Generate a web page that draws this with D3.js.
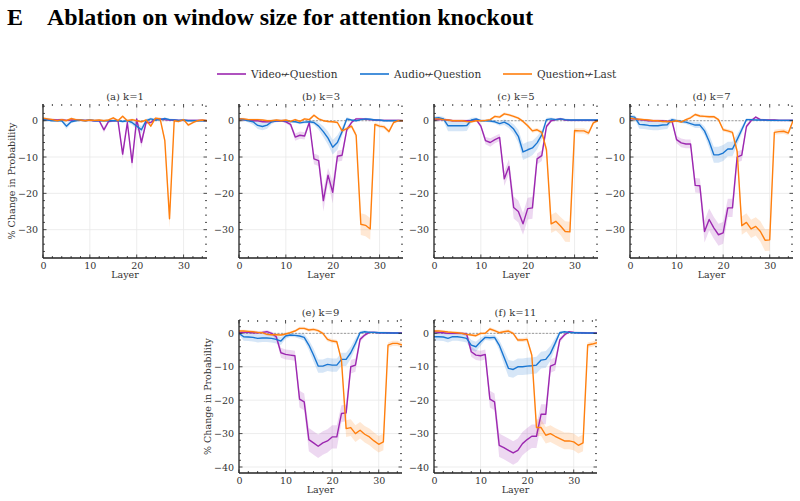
<!DOCTYPE html>
<html>
<head>
<meta charset="utf-8">
<script src="https://cdn.jsdelivr.net/npm/d3@7"></script>
<style>
  body { margin: 0; background: #fff; }
  svg text { font-family: "DejaVu Serif", serif; fill: #333; }
</style>
</head>
<body>
<svg id="chart" width="800" height="501"></svg>
<script>
// series names for the legend
var seriesNames = ['Video\u219AQuestion', 'Audio\u219AQuestion', 'Question\u219ALast'];
var seriesColors = ['#9C27B0', '#1976D2', '#FF7F0E'];
var panelTitles = ['(a) k=1', '(b) k=3', '(c) k=5', '(d) k=7', '(e) k=9', '(f) k=11'];
var xTicks = [0, 10, 20, 30];
var yTicksTop = [0, -10, -20, -30];
var yTicksBottom = [0, -10, -20, -30, -40];

// % change per layer (0..35)
var videoK1 = [0.5,0.3,0.3,0.2,0.3,0.1,0.2,0.2,0.1,0.1,0.1,0,0,-2.5,-0.2,0,0,-9.2,-0.5,-11.5,0.5,-6,-0.5,-0.5,0.5,0.5,0.3,0.2,0.2,0.1,0.1,0.1,0.1,0.1,0.1,0];
var audioK1 = [0.3,0.2,0,0,0,-1.5,-0.3,0,0.2,0,0.2,0,0,0,0,0,0,-0.2,0,-0.5,-1.5,-2.5,0,0.5,0.2,0.3,0.6,0.3,0.2,0.1,0.2,0,0,0,0,0];
var lastK1 = [0.7,0.5,0.3,0,0.3,0,0.6,0.3,0.2,0,0.2,0.1,0.2,0,0.2,0.8,0,1.2,0,0.3,0,-0.3,0.2,-1.5,0.7,0.5,-5.5,-27,0,-0.2,0.3,-1.2,-0.5,0,0.2,0];

var videoK3 = [0.5,0.3,0.2,0,0,-0.3,-0.3,-0.2,-0.1,0,-0.3,-1,-4.5,-4,-4.2,-0.5,-10.5,-11,-22,-15,-19.7,-9.8,-9.5,-2.5,-0.5,0.5,0.5,0.4,0.3,0.2,0.1,0.1,0.1,0.1,0.1,0];
var audioK3 = [0.5,0.3,0,-0.3,-1.3,-1.6,-1.2,-0.3,0,0,0,-0.2,-0.3,-0.6,-0.4,-0.3,-0.5,-1.5,-3,-4.8,-7.3,-6,-3,0.5,0.2,0,0.3,0.5,0.4,0.2,0.2,0,0,0,0,0];
var lastK3 = [0.5,0.5,0.3,0.3,0.3,0.2,0,0,0.2,0,0.2,-0.2,0.3,-0.2,0.5,0.3,1.5,0.5,0,-0.2,-0.3,-0.5,-2.8,-2.2,-1.5,-4,-28.5,-28.8,-29.8,-1,-1.5,-1.7,-3,-0.5,0,0];

var videoK5 = [0.3,0.3,0.3,0.2,0,0,0,0,0,0.3,-1.5,-5.5,-6,-5.2,-4.6,-16,-12.6,-23.9,-25,-28.4,-24.2,-24,-10.5,-9.6,-1.6,0,0.3,0.5,0.2,0.1,0.1,0.1,0.1,0.1,0.1,0.1];
var audioK5 = [0.7,0.8,0.5,-1.4,-1.4,-1.4,-1.4,-1.3,0.2,0.5,0,0,-0.1,-0.3,-0.8,-0.4,-1.1,-2.3,-4.3,-8.6,-8,-7.5,-6.1,-3.9,0.3,0.5,0.3,0.5,0.3,0.2,0.2,0.2,0.2,0.2,0.2,0.2];
var lastK5 = [0.5,0.5,0.3,0.2,0,0,0,-0.2,-0.3,0,0,0.1,0.3,1.2,1,1.9,1.6,1.2,0.7,-0.2,-1.4,-2.8,-2.5,-3.2,-8,-28.4,-27.7,-29,-30.5,-30.6,-2.7,-2.8,-2.8,-3.4,-0.6,0];

var videoK7 = [0.5,0.5,0.3,0.2,0,0,0,0,-0.2,0,-5.2,-6.1,-6.4,-6.4,-17.8,-17.9,-30.5,-27.2,-29.5,-31.4,-30.9,-24,-24,-10,-9.5,-1.6,0,1,0.3,0.2,0.2,0.2,0.1,0.1,0.1,0.1];
var audioK7 = [1.2,1,-1,-1.1,-1.3,-1.4,-1.4,-1.2,-1.1,0.3,0,-0.2,-0.4,-0.8,-1.2,-1.2,-2.8,-5.7,-9.4,-9.4,-8.9,-7.8,-7.8,-5.2,-2.5,0.3,0.3,0.2,0.2,0.2,0.1,0.1,0.1,0.1,0.1,0.1];
var lastK7 = [0.7,0.5,0.4,0.3,0.2,0,0,-0.2,-0.2,-0.3,0,-0.4,0.3,0.8,1.7,1.3,1.2,1.1,1.1,0.3,-2.5,-2.8,-3.2,-8.4,-28.9,-28,-29.8,-29.1,-30.5,-32.9,-32.8,-3.2,-3,-2.9,-3.4,0];

var videoK9 = [0.2,0.3,0.3,0.2,0.2,0.3,0.5,0,-1,-5.8,-6.3,-6.5,-6.7,-19.7,-20.5,-31.8,-32.8,-33.8,-32.8,-32.2,-31,-31,-24,-23.8,-10,-9.5,-1.8,-0.5,0.3,0.3,0.2,0.2,0.2,0.1,0.1,0.1];
var audioK9 = [0,-1,-1.1,-1.2,-1.5,-1.4,-1.4,-1.5,-1.8,-2.3,-0.8,-0.5,-0.6,-0.8,-1.2,-3.5,-6.5,-9.8,-9.8,-9.3,-9.5,-9.5,-7.8,-7.8,-5.8,-3,0.2,0.5,0.3,0.3,0.2,0.2,0.1,0.1,0.1,0];
var lastK9 = [0.7,0.7,0.6,0.5,0.3,0.2,-0.3,-0.4,-0.4,-0.5,-0.2,0.2,0.7,1.5,1.5,1,1.2,0.8,0,-1.8,-2.3,-2.5,-8,-28.5,-28.2,-30,-29,-30.2,-31,-32.2,-33.2,-32.5,-3.5,-3,-3,-3.5];

var videoK11 = [0.5,0.3,0.2,0,0,0,0,-0.2,-5.5,-6.5,-6.7,-6.3,-19.7,-20.5,-33.5,-34.2,-35,-35.8,-35,-33,-31.8,-30.8,-30.8,-24.2,-24.2,-9.8,-9.2,-2,-0.5,0.5,0.3,0.2,0.2,0.1,0.1,0.1];
var audioK11 = [-1,-1,-1.1,-1.5,-1,-1,-1.2,-1.5,-3.5,-4,-2.5,-1.2,-1.3,-1.2,-3.5,-7,-10.5,-10.8,-10,-10,-9.8,-9.7,-9.5,-8,-7.8,-6,-3,0.2,0.5,0.3,0.2,0.2,0.1,0.1,0.1,0];
var lastK11 = [0.7,0.7,0.6,0.4,0.3,0.2,0,-0.3,-0.5,-0.7,0,0,1.3,0.8,0.2,0.5,0.7,0,-2,-2,-1.8,-6.5,-28.2,-28.2,-30.5,-30,-30.8,-31.5,-32.2,-32.2,-32.5,-33.5,-32.8,-3.5,-3.2,-2.8];

// half width of the shaded band, per layer
var videoErrK1 = [0.3,0.3,0.3,0.3,0.3,0.3,0.3,0.3,0.3,0.3,0.3,0.3,0.4,0.8,0.4,0.3,0.3,1.5,0.5,2,0.5,1.5,0.4,0.3,0.3,0.3,0.3,0.3,0.3,0.3,0.3,0.3,0.3,0.3,0.3,0.3];
var audioErrK1 = [0.3,0.3,0.3,0.3,0.4,0.8,0.4,0.3,0.3,0.3,0.3,0.3,0.3,0.3,0.3,0.3,0.3,0.3,0.4,0.6,1,1,0.5,0.4,0.3,0.3,0.3,0.3,0.3,0.3,0.3,0.3,0.3,0.3,0.3,0.3];
var lastErrK1 = [0.3,0.3,0.3,0.3,0.3,0.3,0.3,0.3,0.3,0.3,0.3,0.3,0.3,0.3,0.3,0.3,0.3,0.4,0.3,0.3,0.3,0.3,0.3,0.4,0.4,0.4,1,2.5,0.4,0.3,0.3,0.4,0.3,0.3,0.3,0.3];

var videoErrK3 = [0.3,0.3,0.3,0.3,0.3,0.3,0.3,0.3,0.3,0.3,0.4,0.6,1,1,1,0.5,1.5,1.5,3,2,3,1.5,1.5,0.8,0.4,0.3,0.3,0.3,0.3,0.3,0.3,0.3,0.3,0.3,0.3,0.3];
var audioErrK3 = [0.3,0.3,0.5,0.8,1,1,1,0.6,0.3,0.3,0.3,0.3,0.3,0.4,0.4,0.4,0.6,1,1.5,1.8,2,2,1.2,0.5,0.3,0.3,0.3,0.3,0.3,0.3,0.3,0.3,0.3,0.3,0.3,0.3];
var lastErrK3 = [0.3,0.3,0.3,0.3,0.3,0.3,0.3,0.3,0.3,0.3,0.3,0.3,0.3,0.3,0.3,0.3,0.4,0.3,0.3,0.3,0.3,0.3,0.5,0.5,0.5,0.8,3,3,3,0.5,0.5,0.5,0.6,0.4,0.3,0.3];

var videoErrK5 = [0.3,0.3,0.3,0.3,0.3,0.3,0.3,0.3,0.3,0.4,0.6,1,1.2,1,1,2,2,3,3,3,3,3,1.5,1.5,0.6,0.4,0.3,0.3,0.3,0.3,0.3,0.3,0.3,0.3,0.3,0.3];
var audioErrK5 = [0.5,0.5,0.6,1.5,1.5,1.5,1.5,1.5,0.6,0.4,0.3,0.3,0.4,0.5,0.6,0.8,1,1.3,1.8,2.2,2.2,2,1.8,1.2,0.5,0.4,0.3,0.3,0.3,0.3,0.3,0.3,0.3,0.3,0.3,0.3];
var lastErrK5 = [0.3,0.3,0.3,0.3,0.3,0.3,0.3,0.3,0.3,0.3,0.3,0.3,0.3,0.4,0.4,0.4,0.4,0.4,0.4,0.4,0.5,0.5,0.5,0.6,1,2.5,2.5,2.5,2.8,2.8,0.7,0.7,0.7,0.7,0.4,0.3];

var videoErrK7 = [0.3,0.3,0.3,0.3,0.3,0.3,0.3,0.3,0.3,0.4,1,1.2,1.2,1.2,2,2,3,3,3,3,3,2.5,2.5,1.5,1.5,0.6,0.4,0.3,0.3,0.3,0.3,0.3,0.3,0.3,0.3,0.3];
var audioErrK7 = [0.5,0.5,1.2,1.2,1.2,1.2,1.2,1.2,1.2,0.5,0.4,0.4,0.5,0.6,0.8,0.8,1.2,1.8,2.2,2.2,2.2,2,2,1.5,1,0.4,0.3,0.3,0.3,0.3,0.3,0.3,0.3,0.3,0.3,0.3];
var lastErrK7 = [0.3,0.3,0.3,0.3,0.3,0.3,0.3,0.3,0.3,0.3,0.3,0.3,0.3,0.4,0.4,0.4,0.4,0.4,0.4,0.4,0.5,0.5,0.5,0.8,2.5,2.5,2.5,2.5,2.8,3,3,0.7,0.7,0.7,0.7,0.3];

var videoErrK9 = [0.4,0.4,0.4,0.4,0.4,0.4,0.5,0.5,0.8,1.5,1.5,1.5,1.5,2.5,2.5,3.5,3.5,3.5,3.5,3.5,3.5,3.5,2.5,2.5,2,2,0.8,0.5,0.3,0.3,0.3,0.3,0.3,0.3,0.3,0.3];
var audioErrK9 = [0.5,1.2,1.2,1.2,1.2,1.2,1.2,1.2,1.2,1.2,0.8,0.6,0.6,0.8,1,1.5,2,2,2,2,2,2,2,2,1.8,1.5,0.5,0.4,0.3,0.3,0.3,0.3,0.3,0.3,0.3,0.3];
var lastErrK9 = [0.4,0.4,0.4,0.4,0.4,0.4,0.4,0.4,0.4,0.4,0.4,0.4,0.4,0.5,0.5,0.5,0.5,0.5,0.5,0.6,0.6,0.6,1,2.5,2.5,2.5,2.5,2.5,2.5,2.5,2.5,2.5,0.8,0.8,0.8,0.8];

var videoErrK11 = [0.4,0.4,0.4,0.4,0.4,0.4,0.4,0.6,1.5,1.5,1.5,1.5,2.5,2.5,3.5,3.5,3.5,3.5,3.5,3.5,3.5,3.5,3.5,3,3,2,2,0.8,0.5,0.3,0.3,0.3,0.3,0.3,0.3,0.3];
var audioErrK11 = [1.2,1.2,1.2,1.2,1.2,1.2,1.2,1.2,1.5,1.5,1.2,0.8,0.8,0.8,1.5,2.2,2.5,2.5,2.5,2.5,2.5,2.5,2.5,2.5,2.5,2.2,1.5,0.5,0.3,0.3,0.3,0.3,0.3,0.3,0.3,0.3];
var lastErrK11 = [0.4,0.4,0.4,0.4,0.4,0.4,0.4,0.4,0.4,0.4,0.4,0.4,0.5,0.5,0.5,0.5,0.5,0.5,0.6,0.6,0.6,1,2.5,2.5,2.5,2.5,2.5,2.5,2.5,2.5,2.5,2.5,2.5,0.8,0.8,0.8];

var svg = d3.select('#chart');

// title
svg.append('text').attr('x', 7).attr('y', 25)
	.style('font-family', '"Liberation Serif", serif').style('font-weight', 'bold')
	.style('font-size', '24px').style('fill', '#000')
	.text('E');
svg.append('text').attr('x', 47).attr('y', 25)
	.style('font-family', '"Liberation Serif", serif').style('font-weight', 'bold')
	.style('font-size', '24px').style('fill', '#000')
	.text('Ablation on window size for attention knockout');

// legend
var legendX = [217, 360, 503];
seriesNames.forEach(function(name, i) {
	svg.append('line')
		.attr('x1', legendX[i]).attr('x2', legendX[i] + 29)
		.attr('y1', 74).attr('y2', 74)
		.attr('stroke', seriesColors[i]).attr('stroke-width', 1.6);
	svg.append('text')
		.attr('x', legendX[i] + 34).attr('y', 78)
		.style('font-size', '10.5px')
		.text(name);
});

var panels = [
	{ x0: 43, x1: 207, y0: 104, y1: 258, dom: [-37.8, 4.6], ticks: yTicksTop, ylabel: true,
	  vals: [videoK1, audioK1, lastK1], errs: [videoErrK1, audioErrK1, lastErrK1] },
	{ x0: 239, x1: 403, y0: 104, y1: 258, dom: [-37.8, 4.6], ticks: yTicksTop, ylabel: false,
	  vals: [videoK3, audioK3, lastK3], errs: [videoErrK3, audioErrK3, lastErrK3] },
	{ x0: 434, x1: 598, y0: 104, y1: 258, dom: [-37.8, 4.6], ticks: yTicksTop, ylabel: false,
	  vals: [videoK5, audioK5, lastK5], errs: [videoErrK5, audioErrK5, lastErrK5] },
	{ x0: 630, x1: 793, y0: 104, y1: 258, dom: [-37.8, 4.6], ticks: yTicksTop, ylabel: false,
	  vals: [videoK7, audioK7, lastK7], errs: [videoErrK7, audioErrK7, lastErrK7] },
	{ x0: 239, x1: 402, y0: 320, y1: 473, dom: [-41.8, 4.0], ticks: yTicksBottom, ylabel: true,
	  vals: [videoK9, audioK9, lastK9], errs: [videoErrK9, audioErrK9, lastErrK9] },
	{ x0: 434, x1: 597, y0: 320, y1: 473, dom: [-41.8, 4.0], ticks: yTicksBottom, ylabel: false,
	  vals: [videoK11, audioK11, lastK11], errs: [videoErrK11, audioErrK11, lastErrK11] }
];

panels.forEach(function(p, pi) {
	var x = d3.scaleLinear().domain([0, 35]).range([p.x0, p.x1]);
	var y = d3.scaleLinear().domain(p.dom).range([p.y1, p.y0]);
	var g = svg.append('g');
	var clipId = 'clip' + pi;
	g.append('clipPath').attr('id', clipId).append('rect')
		.attr('x', p.x0).attr('y', p.y0).attr('width', p.x1 - p.x0).attr('height', p.y1 - p.y0);

	// grid
	g.selectAll('.vgrid').data(xTicks.slice(1)).enter().append('line')
		.attr('x1', function(d) { return x(d); }).attr('x2', function(d) { return x(d); })
		.attr('y1', p.y0).attr('y2', p.y1)
		.attr('stroke', '#e8e8e8').attr('stroke-width', 0.8);
	g.selectAll('.hgrid').data(p.ticks).enter().append('line')
		.attr('x1', p.x0).attr('x2', p.x1)
		.attr('y1', function(d) { return y(d); }).attr('y2', function(d) { return y(d); })
		.attr('stroke', '#e8e8e8').attr('stroke-width', 0.8);

	// zero reference
	g.append('line')
		.attr('x1', p.x0).attr('x2', p.x1).attr('y1', y(0)).attr('y2', y(0))
		.attr('stroke', '#777').attr('stroke-width', 0.7).attr('stroke-dasharray', '2,1.5');

	var plot = g.append('g').attr('clip-path', 'url(#' + clipId + ')');
	var area = function(vals, errs) {
		return d3.area()
			.x(function(d, i) { return x(i); })
			.y0(function(d, i) { return y(vals[i] - errs[i]); })
			.y1(function(d, i) { return y(vals[i] + errs[i]); })(vals);
	};
	var line = d3.line().x(function(d, i) { return x(i); }).y(function(d) { return y(d); });

	p.vals.forEach(function(vals, si) {
		plot.append('path').attr('d', area(vals, p.errs[si]))
			.attr('fill', seriesColors[si]).attr('fill-opacity', 0.18).attr('stroke', 'none');
	});
	p.vals.forEach(function(vals, si) {
		plot.append('path').attr('d', line(vals))
			.attr('fill', 'none').attr('stroke', seriesColors[si]).attr('stroke-width', 1.4)
			.attr('stroke-linejoin', 'round');
	});

	// inward ticks on all four sides
	var xMinor = d3.range(0, 36, 2).filter(function(d) { return xTicks.indexOf(d) < 0; });
	var yMinor = d3.range(-42, 5, 2).filter(function(d) { return p.ticks.indexOf(d) < 0 && d >= p.dom[0] && d <= p.dom[1]; });
	var tk = g.append('g').attr('stroke', '#222').attr('stroke-width', 0.8);
	function xt(vals, len) {
		vals.forEach(function(d) {
			tk.append('line').attr('x1', x(d)).attr('x2', x(d)).attr('y1', p.y1).attr('y2', p.y1 - len);
			tk.append('line').attr('x1', x(d)).attr('x2', x(d)).attr('y1', p.y0).attr('y2', p.y0 + len);
		});
	}
	function yt(vals, len) {
		vals.forEach(function(d) {
			tk.append('line').attr('x1', p.x0).attr('x2', p.x0 + len).attr('y1', y(d)).attr('y2', y(d));
			tk.append('line').attr('x1', p.x1).attr('x2', p.x1 - len).attr('y1', y(d)).attr('y2', y(d));
		});
	}
	xt(xTicks, 3.5); xt(xMinor, 2);
	yt(p.ticks, 3.5); yt(yMinor, 2);

	// spines
	g.append('line').attr('x1', p.x0).attr('x2', p.x0).attr('y1', p.y0).attr('y2', p.y1)
		.attr('stroke', '#222').attr('stroke-width', 1.3);
	g.append('line').attr('x1', p.x0).attr('x2', p.x1).attr('y1', p.y1).attr('y2', p.y1)
		.attr('stroke', '#222').attr('stroke-width', 1.3);

	// tick labels through d3 axes
	var ya = g.append('g').attr('transform', 'translate(' + p.x0 + ',0)')
		.call(d3.axisLeft(y).tickValues(p.ticks).tickSize(0).tickPadding(5).tickFormat(d3.format('d')));
	var xa = g.append('g').attr('transform', 'translate(0,' + p.y1 + ')')
		.call(d3.axisBottom(x).tickValues(xTicks).tickSize(0).tickPadding(4));
	[ya, xa].forEach(function(a) {
		a.select('.domain').remove();
		a.selectAll('text').style('font-family', '"DejaVu Serif", serif').style('font-size', '9.5px').style('fill', '#333');
	});

	g.append('text')
		.attr('x', (p.x0 + p.x1) / 2).attr('y', p.y1 + 20)
		.attr('text-anchor', 'middle').style('font-size', '9.5px')
		.text('Layer');
	g.append('text')
		.attr('x', (p.x0 + p.x1) / 2).attr('y', p.y0 - 4)
		.attr('text-anchor', 'middle').style('font-size', '10px')
		.text(panelTitles[pi]);
	if (p.ylabel) {
		g.append('text')
			.attr('transform', 'translate(' + (p.x0 - 28) + ',' + ((p.y0 + p.y1) / 2) + ') rotate(-90)')
			.attr('text-anchor', 'middle').style('font-size', '9.5px')
			.text('% Change in Probability');
	}
});
</script>
</body>
</html>
